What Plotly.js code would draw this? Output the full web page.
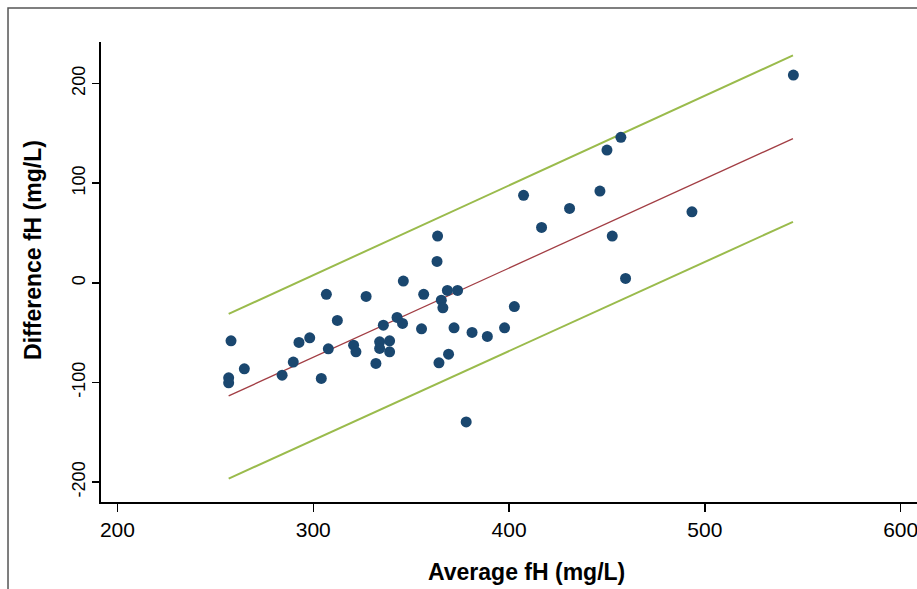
<!DOCTYPE html>
<html>
<head>
<meta charset="utf-8">
<script src="https://cdn.plot.ly/plotly-3.0.1.min.js"></script>
<style>
html,body{margin:0;padding:0;background:#fff;overflow:hidden;width:917px;height:589px;}
#chart{width:951px;height:589px;}
</style>
</head>
<body>
<div id="chart"></div>
<script>
// Average fH (mg/L) of each pair
var avgFH = [256.8, 256.8, 258.0, 264.8, 284.1, 289.8, 292.7, 298.2, 304.1, 306.7,
             307.7, 312.3, 320.6, 321.8, 327.0, 332.0, 333.9, 333.9, 335.8, 339.0,
             339.0, 342.8, 345.6, 346.0, 355.3, 356.4, 363.2, 363.5, 364.2, 365.4,
             366.2, 368.5, 369.1, 371.9, 373.7, 378.1, 381.1, 388.9, 397.7, 402.7,
             407.4, 416.6, 430.9, 446.4, 450.0, 452.7, 457.1, 459.5, 493.4, 545.2];
// Difference fH (mg/L) of each pair
var diffFH = [-95.4, -100.4, -58.2, -86.3, -92.7, -79.6, -59.8, -55.2, -96.0, -11.6,
              -66.3, -37.8, -62.6, -69.3, -13.7, -80.9, -59.2, -65.9, -42.5, -58.2,
              -69.3, -34.7, -40.8, 1.7, -46.2, -11.6, 21.5, 46.9, -80.3, -17.4,
              -25.1, -7.6, -71.6, -45.2, -7.6, -139.6, -49.8, -53.8, -45.2, -23.8,
              87.8, 55.6, 74.7, 92.1, 133.2, 46.9, 146.0, 4.4, 71.3, 208.5];
// Regression line of difference on average, with limits of agreement
var lineX = [256.8, 545.0];
var meanLine = [-113.5, 144.8];
var upperLoA = [-31.2, 228.3];
var lowerLoA = [-196.5, 61.2];

var xTicks = [200, 300, 400, 500, 600];
var yTicks = [-200, -100, 0, 100, 200];

var FONT = "Liberation Sans, Arial, Helvetica, sans-serif";
var GREEN = "#9abb4c", RED = "#a23e44", NAVY = "#1a476f";

var traces = [
  {x: lineX, y: upperLoA, mode: "lines", line: {color: GREEN, width: 2}, hoverinfo: "skip"},
  {x: lineX, y: lowerLoA, mode: "lines", line: {color: GREEN, width: 2}, hoverinfo: "skip"},
  {x: lineX, y: meanLine, mode: "lines", line: {color: RED, width: 1.3}, hoverinfo: "skip"},
  {x: avgFH, y: diffFH, mode: "markers", marker: {color: NAVY, size: 11, line: {width: 0}}}
];

var layout = {
  width: 951, height: 589,
  margin: {l: 101, r: 0, t: 42, b: 87},
  paper_bgcolor: "#fff", plot_bgcolor: "#fff",
  showlegend: false,
  font: {family: FONT, color: "#000"},
  xaxis: {
    range: [191.6, 625.7], tickvals: xTicks, ticktext: xTicks.map(String),
    showgrid: false, zeroline: false, showline: true, linecolor: "#000", linewidth: 2,
    ticks: "outside", ticklen: 8, tickwidth: 1.5, tickcolor: "#000",
    tickfont: {size: 21, family: FONT, color: "#000"}
  },
  yaxis: {
    range: [-220, 241.7], tickvals: yTicks, ticktext: yTicks.map(String),
    showgrid: false, zeroline: false, showline: true, linecolor: "#000", linewidth: 1.8,
    ticks: "outside", ticklen: 7, tickwidth: 1.5, tickcolor: "#000", tickangle: -90,
    tickfont: {size: 18, family: FONT, color: "#000"}
  },
  annotations: [
    {text: "<b>Average fH (mg/L)</b>", xref: "paper", yref: "paper", x: 0.5, y: -0.152,
     xanchor: "center", yanchor: "middle", showarrow: false,
     font: {size: 23, family: FONT, color: "#000"}},
    {text: "<b>Difference fH (mg/L)</b>", xref: "paper", yref: "paper", x: -0.08, y: 0.548,
     xanchor: "center", yanchor: "middle", showarrow: false, textangle: -90,
     font: {size: 23, family: FONT, color: "#000"}}
  ],
  shapes: [
    {type: "rect", xref: "paper", yref: "paper", x0: -0.1094, x1: 1.2, y0: -0.4, y1: 1.0739,
     line: {color: "#555", width: 1.5}, fillcolor: "rgba(0,0,0,0)", layer: "below"}
  ]
};

Plotly.newPlot("chart", traces, layout, {displayModeBar: false, staticPlot: true});
</script>
</body>
</html>
